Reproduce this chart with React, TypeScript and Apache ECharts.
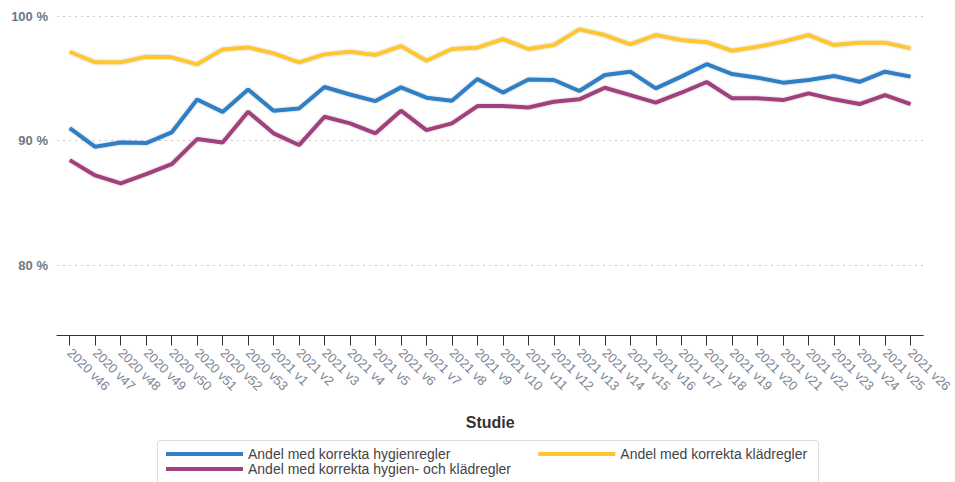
import React, { useEffect, useRef } from "react";
import * as echarts from "echarts";

const categories = [
  "2020 v46", "2020 v47", "2020 v48", "2020 v49", "2020 v50", "2020 v51", "2020 v52", "2020 v53",
  "2021 v1", "2021 v2", "2021 v3", "2021 v4", "2021 v5", "2021 v6", "2021 v7", "2021 v8",
  "2021 v9", "2021 v10", "2021 v11", "2021 v12", "2021 v13", "2021 v14", "2021 v15", "2021 v16",
  "2021 v17", "2021 v18", "2021 v19", "2021 v20", "2021 v21", "2021 v22", "2021 v23", "2021 v24",
  "2021 v25", "2021 v26",
];

const hygien = [
  91.0, 89.5, 89.85, 89.8, 90.65, 93.3, 92.3, 94.1, 92.4, 92.58, 94.3, 93.7, 93.17, 94.27, 93.44, 93.2,
  94.94, 93.85, 94.9, 94.86, 93.98, 95.26, 95.53, 94.19, 95.13, 96.13, 95.34, 95.05, 94.65, 94.86,
  95.18, 94.72, 95.53, 95.13,
];

const klad = [
  97.13, 96.28, 96.28, 96.73, 96.68, 96.12, 97.32, 97.48, 97.0, 96.28, 96.92, 97.13, 96.87, 97.59,
  96.41, 97.35, 97.46, 98.15, 97.35, 97.67, 98.93, 98.47, 97.72, 98.47, 98.07, 97.9, 97.21, 97.53,
  97.94, 98.47, 97.67, 97.86, 97.86, 97.4,
];

const bada = [
  88.43, 87.2, 86.56, 87.3, 88.1, 90.12, 89.85, 92.31, 90.58, 89.64, 91.91, 91.38, 90.58, 92.4, 90.84,
  91.38, 92.77, 92.77, 92.66, 93.12, 93.31, 94.24, 93.65, 93.04, 93.84, 94.7, 93.39, 93.39, 93.25,
  93.79, 93.31, 92.93, 93.65, 92.93,
];

const seriesNames = [
  "Andel med korrekta hygienregler",
  "Andel med korrekta klädregler",
  "Andel med korrekta hygien- och klädregler",
];

const yMin = 74.35;
const yMax = 100;

export default function App() {
  const ref = useRef<HTMLDivElement>(null);

  useEffect(() => {
    if (!ref.current) return;
    const chart = echarts.init(ref.current, null, { renderer: "svg" });
    const font = "'Liberation Sans', Arial, sans-serif";
    const colors = ["#2e7fc5", "#fec730", "#a2407b"];
    const legendText = { color: "#444", fontSize: 14, fontFamily: font };
    const mkSeries = (name: string, data: number[], color: string) => ({
      name,
      type: "line",
      data,
      symbol: "none",
      color,
      lineStyle: {
        width: 4,
        color,
        shadowColor: "rgba(0,0,0,0.25)",
        shadowBlur: 2,
      },
      z: 3,
    });
    chart.setOption({
      animation: false,
      textStyle: { fontFamily: font },
      grid: { left: 57, right: 26, top: 16, bottom: 146.5, containLabel: false },
      legend: [
        {
          data: [seriesNames[0], seriesNames[1]],
          left: 166,
          top: 447,
          orient: "horizontal",
          icon: "rect",
          itemWidth: 77,
          itemHeight: 4,
          itemGap: 88,
          padding: 0,
          textStyle: legendText,
        },
        {
          data: [seriesNames[2]],
          left: 166,
          top: 462,
          orient: "horizontal",
          icon: "rect",
          itemWidth: 77,
          itemHeight: 4,
          padding: 0,
          textStyle: legendText,
        },
      ],
      graphic: [
        {
          type: "rect",
          left: 157,
          top: 440,
          shape: { width: 661, height: 60, r: 3 },
          style: { fill: "#fff", stroke: "#dcdcdc", lineWidth: 1 },
          z: -1,
          silent: true,
        },
      ],
      xAxis: {
        type: "category",
        data: categories,
        boundaryGap: true,
        name: "Studie",
        nameLocation: "middle",
        nameGap: 79,
        nameTextStyle: { fontSize: 16, fontWeight: "bold", color: "#333", fontFamily: font },
        axisLine: { show: true, lineStyle: { color: "#333", width: 1 } },
        axisTick: {
          show: true,
          interval: 0,
          alignWithLabel: true,
          inside: false,
          length: 10,
          lineStyle: { color: "#333", width: 1 },
        },
        axisLabel: {
          rotate: -45,
          interval: 0,
          margin: 15,
          color: "#7d8694",
          fontSize: 13,
          fontFamily: font,
        },
        splitLine: { show: false },
      },
      yAxis: {
        type: "value",
        min: yMin,
        max: yMax,
        splitNumber: 3,
        axisLine: { show: false },
        axisTick: { show: false },
        axisLabel: {
          margin: 9,
          color: "#6f7785",
          fontSize: 13,
          fontWeight: "bold",
          fontFamily: font,
          showMinLabel: false,
          formatter: (v: number) => (Math.abs(v % 10) < 1e-6 ? `${v} %` : ""),
        },
        splitLine: { lineStyle: { color: "#c8c8c8", type: [2, 4], width: 1 } },
      },
      series: [
        mkSeries(seriesNames[0], hygien, colors[0]),
        mkSeries(seriesNames[1], klad, colors[1]),
        mkSeries(seriesNames[2], bada, colors[2]),
      ],
    });
    return () => chart.dispose();
  }, []);

  return <div ref={ref} style={{ width: 955, height: 482, position: "absolute", left: 0, top: 0 }} />;
}
